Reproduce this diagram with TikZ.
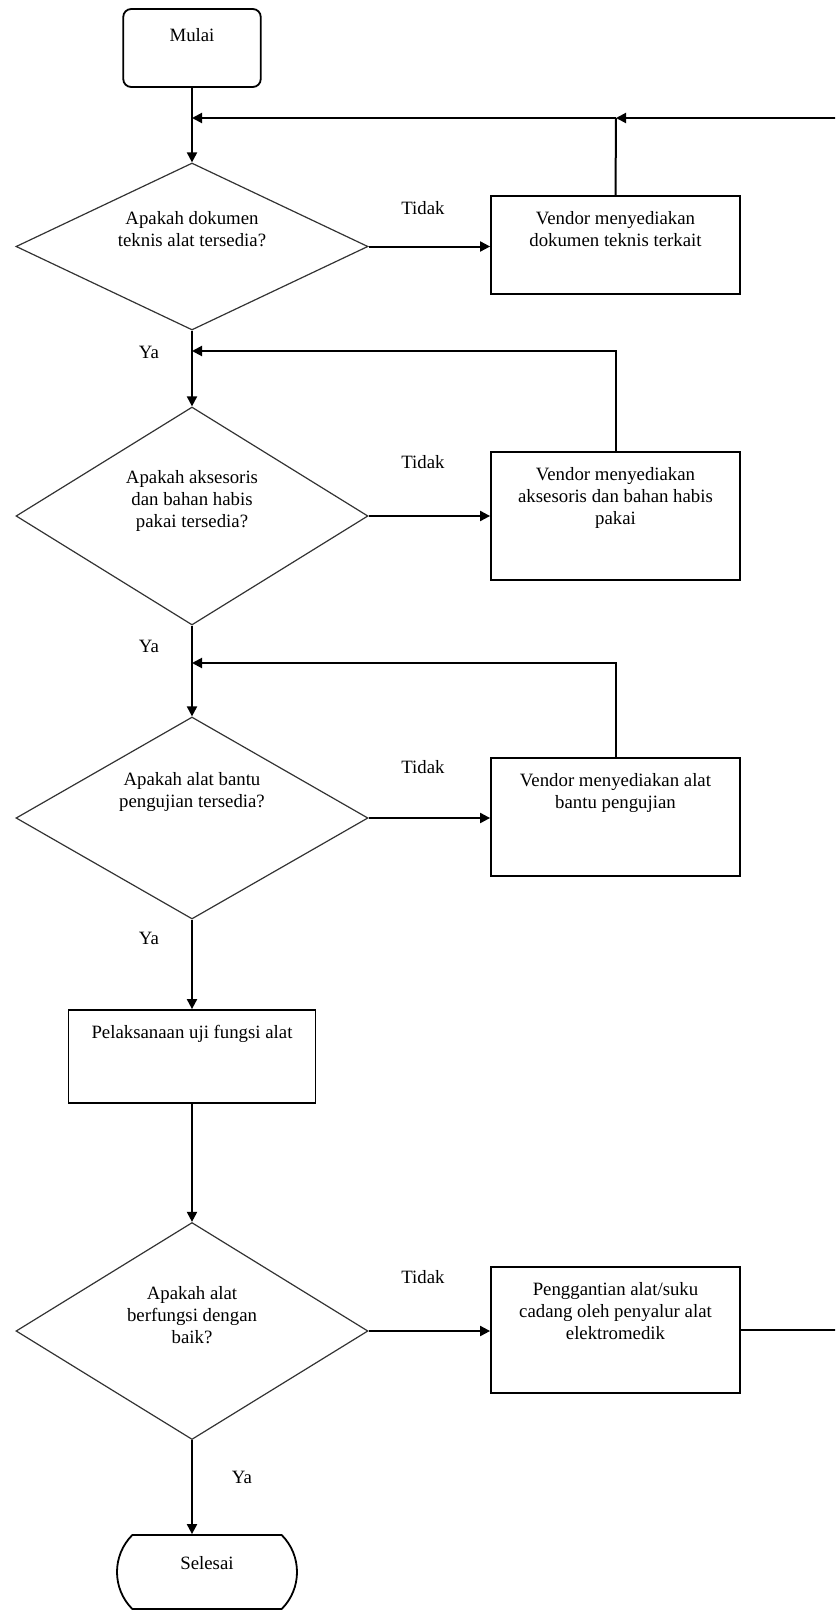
\documentclass[tikz,border=0pt]{standalone}
\usepackage{fontspec}
\setmainfont{Liberation Serif}
\usetikzlibrary{arrows.meta,shapes.geometric,shapes.misc}

\begin{document}
\begin{tikzpicture}[x=0.5pt, y=-0.5pt,
        every node/.style={font=\fontsize{9.4}{11}\selectfont, align=center},
        line/.style={line width=1pt},
        flow/.style={line width=1pt, -{Triangle[length=5pt, width=5pt]}},
        decision/.style={diamond, draw=black!80, line width=0.6pt, minimum width=176pt, inner sep=0pt},
        process/.style={rectangle, draw, line width=0.9pt, minimum width=124.5pt, inner sep=0pt},
        txt/.style={anchor=north, yshift=-4.5pt}]
            \useasboundingbox (0,0) rectangle (835,1611);
            \clip (0,0) rectangle (835,1611);

            \node[rectangle, rounded corners=4pt, draw, line width=0.9pt, minimum width=68.75pt, minimum height=39pt, inner sep=0pt,
                label={[yshift=6.6pt]center:Mulai}] (start) at (192, 48) {};
            \node[decision, minimum height=83.5pt, label={[yshift=8.7pt]center:Apakah dokumen\\teknis alat tersedia?}] (d1) at (192, 246.5) {};
            \node[decision, minimum height=109pt, label={[yshift=7.7pt]center:Apakah aksesoris\\dan bahan habis\\pakai tersedia?}] (d2) at (192, 516) {};
            \node[decision, minimum height=101pt, label={[yshift=13pt]center:Apakah alat bantu\\pengujian tersedia?}] (d3) at (192, 818) {};
            \node[process, minimum width=123.5pt, minimum height=46.5pt, label={[txt]north:Pelaksanaan uji fungsi alat}] (test) at (192, 1056.5) {};
            \node[decision, minimum height=108.5pt, label={[yshift=8pt]center:Apakah alat\\berfungsi dengan\\baik?}] (d4) at (192, 1331) {};
            \node[rounded rectangle, rounded rectangle arc length=90, draw, line width=0.9pt, minimum width=90pt, minimum height=37pt, inner sep=0pt,
                label={[yshift=4.5pt]center:Selesai}] (stop) at (207, 1572) {};

            \node[process, minimum height=49pt, label={[txt]north:Vendor menyediakan\\dokumen teknis terkait}] (b1) at (615.5, 245) {};
            \node[process, minimum height=64.2pt, label={[txt]north:Vendor menyediakan\\aksesoris dan bahan habis\\pakai}] (b2) at (615.5, 516) {};
            \node[process, minimum height=58.9pt, label={[txt]north:Vendor menyediakan alat\\bantu pengujian}] (b3) at (615.5, 817) {};
            \node[process, minimum height=63.2pt, label={[txt]north:Penggantian alat/suku\\cadang oleh penyalur alat\\elektromedik}] (b4) at (615.5, 1330) {};

            \coordinate (j1) at (192, 118);
            \coordinate (j2) at (192, 351);
            \coordinate (j3) at (192, 663);
            \coordinate (r1) at (616, 118);
            \coordinate (e4) at (860, 1330);

            % main line
            \draw[flow] (start) -- (d1);
            \draw[flow] (d1) -- (d2);
            \draw[flow] (d2) -- (d3);
            \draw[flow] (d3) -- (test);
            \draw[flow] (test) -- (d4);
            \draw[flow] (d4.south) -- (d4.south |- stop.north);

            % tidak branches
            \draw[flow] (d1.east) -- (b1.west |- d1.east);
            \draw[flow] (d2.east) -- (b2.west |- d2.east);
            \draw[flow] (d3.east) -- (b3.west |- d3.east);
            \draw[flow] (d4.east) -- (b4.west |- d4.east);

            % back to the checks
            \draw[line] (b4.east) -- (e4) |- (r1 -| e4);
            \draw[flow] (r1 -| e4) -- (r1);
            \draw[line] (b1.north) -- (r1);
            \draw[flow] (r1) -- (j1);
            \draw[flow] (b2.north) |- (j2);
            \draw[flow] (b3.north) |- (j3);

            \node (no1) at (423, 208) {Tidak};
            \node (no2) at (423, 462) {Tidak};
            \node (no3) at (423, 767) {Tidak};
            \node (no4) at (423, 1277) {Tidak};
            \node (ya1) at (149, 352) {Ya};
            \node (ya2) at (149, 646) {Ya};
            \node (ya3) at (149, 938) {Ya};
            \node (ya4) at (242, 1477) {Ya};
        \end{tikzpicture}
\end{document}
